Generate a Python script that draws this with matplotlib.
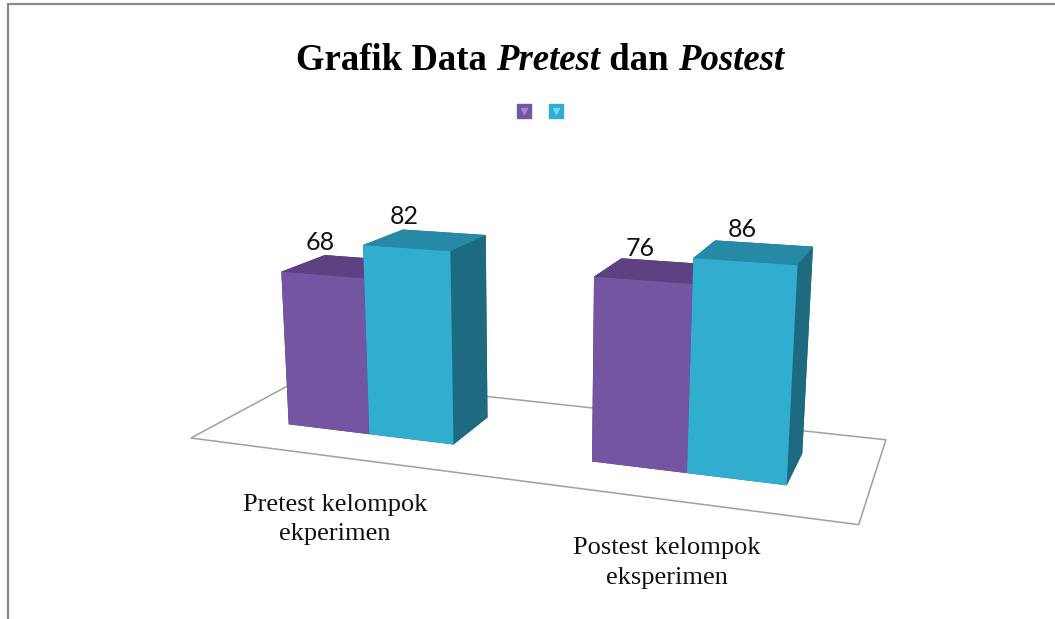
import numpy as np
import matplotlib
matplotlib.use('Agg')
import matplotlib.pyplot as plt
from matplotlib.lines import Line2D
from matplotlib.legend_handler import HandlerTuple
from matplotlib.patches import Rectangle
from mpl_toolkits.mplot3d.art3d import Poly3DCollection

# ---------------- data ----------------
categories = ["Pretest kelompok\nekperimen", "Postest kelompok\neksperimen"]
series_1 = [68, 76]   # purple
series_2 = [82, 86]   # cyan
title_parts = [("Grafik Data ", "normal"), ("Pretest", "italic"),
               (" dan ", "normal"), ("Postest", "italic")]

# ---------------- style / layout ----------------
W, H = 1055, 619
purple = dict(front="#7455A2", top="#5E4183", side="#4E366E", light="#A488D0")
cyan = dict(front="#31ADD0", top="#268AA7", side="#1E6B81", light="#6ADCF4")
bar_w = 0.2817      # bar width in category units
bar_d = 0.3926      # bar depth (floor depth = 1)
serif = "Liberation Serif"

fig = plt.figure(figsize=(W / 100, H / 100), dpi=100)
fig.patch.set_facecolor("white")

# chart frame (cropped on right / bottom like the reference)
fig.patches.append(Rectangle((8 / W, -0.2), 1.3, 1.2 - 4 / H,
                             transform=fig.transFigure, fill=False,
                             edgecolor="#8A8A8A", linewidth=1.6))

ax = fig.add_axes([0.1546, -0.1274, 0.6906, 1.1771], projection="3d")
ax.set_facecolor("none")
ax.computed_zorder = False
ax.view_init(elev=14.25, azim=-70.26)
ax.set_box_aspect((1, 0.3501, 0.3609))
ax.set_proj_type("persp", focal_length=0.3386)

n = len(categories)
idx = np.arange(n)

# floor
floor = Poly3DCollection([[(-0.5, 0, 0), (n - 0.5, 0, 0), (n - 0.5, 1, 0), (-0.5, 1, 0)]],
                         facecolor="white", edgecolor="#A0A0A0", linewidth=1.1, zorder=0)
ax.add_collection3d(floor)

# bars
y0 = 0.5 - bar_d / 2
xs = np.concatenate([idx - bar_w, idx])
heights = np.concatenate([series_1, series_2])
face_cols = []
for pal in [purple] * n + [cyan] * n:
    # order: -z, +z, -y(front), +y(back), -x(left), +x(right)
    face_cols += [pal["side"], pal["top"], pal["front"], pal["side"], pal["side"], pal["side"]]
ax.bar3d(xs, np.full(2 * n, y0), np.zeros(2 * n), bar_w, bar_d, heights,
         color=face_cols, shade=False, linewidth=0, zorder=1)

ax.set_xlim(-0.5, n - 0.5)
ax.set_ylim(0, 1)
ax.set_zlim(0, 100)
ax.set_axis_off()

# projection of 3D anchor points into the axes' 2D coordinates
M = ax.get_proj()


def proj2d(x, y, z):
    v = M @ np.array([x, y, z, 1.0])
    return v[0] / v[3], v[1] / v[3]


# data labels (above the front top edge of each bar)
for x, v in zip(xs + bar_w / 2, heights):
    ax.annotate(f"{v}", proj2d(x, y0, v), xytext=(-1.5, 23), textcoords="offset points",
                ha="center", va="center", fontsize=18, family="Lato",
                color="#111111", annotation_clip=False, zorder=5)

# category labels (below the front edge of the floor)
for c, lab in zip(idx, categories):
    ax.annotate(lab, proj2d(c, 0, 0), xytext=(-1, -45.5), textcoords="offset points",
                ha="center", va="center", fontsize=19, family=serif,
                color="#111111", linespacing=1.45, annotation_clip=False, zorder=5)

# title: bold with italic words
renderer = fig.canvas.get_renderer()
title_size = 26.5
pieces = []
for txt, style in title_parts:
    p = fig.text(0.5, 1 - 69.5 / H, txt, fontsize=title_size, family=serif,
                 weight="bold", style=style, ha="left", va="baseline")
    pieces.append(p)
widths = [p.get_window_extent(renderer).width for p in pieces]
x = 540 - sum(widths) / 2
for p, wd in zip(pieces, widths):
    p.set_x(x / W)
    x += wd

# legend (no labels, markers only)
h1 = (Line2D([], [], marker="s", markersize=9.5, color=purple["front"], linestyle="none"),
      Line2D([], [], marker="v", markersize=5, color=purple["light"], linestyle="none"))
h2 = (Line2D([], [], marker="s", markersize=9.5, color=cyan["front"], linestyle="none"),
      Line2D([], [], marker="v", markersize=5, color=cyan["light"], linestyle="none"))
fig.legend([h1, h2], ["", ""], handler_map={tuple: HandlerTuple(ndivide=1)},
           ncol=2, loc="center", bbox_to_anchor=(540 / W, 1 - 111.7 / H),
           frameon=False, fontsize=10, handlelength=1.0, handletextpad=0.0,
           columnspacing=1.25, borderpad=0)

fig.savefig("out.png", dpi=100, facecolor="white")
